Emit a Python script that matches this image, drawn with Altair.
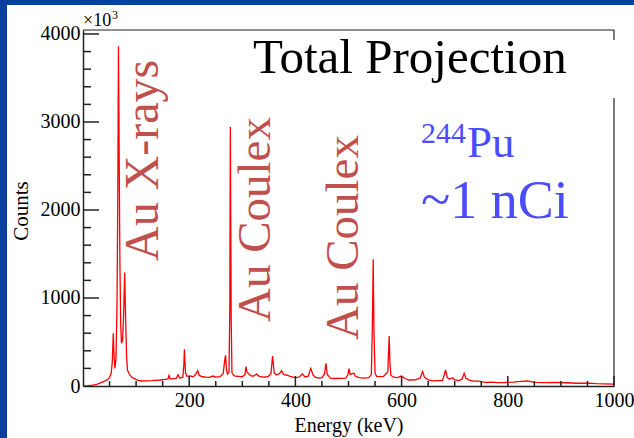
import altair as alt
import pandas as pd

# ---------------- data ----------------
energy = [0, 10, 19, 27, 34, 41, 47, 51, 53, 55, 57, 58.5, 60, 62, 64, 65.5, 66.8, 68, 69.5, 71,
          72.5, 74.5, 76.5, 78.5, 80.5, 82, 83.7, 88, 92, 97.6, 104, 110, 120, 130, 145, 155, 160,
          162, 164, 170, 176, 179, 182, 188, 190, 191, 193, 196, 202, 208, 212, 216, 219, 225, 232,
          238, 245, 250, 258, 264, 267, 268.5, 270, 272, 275, 276.5, 277.5, 279, 280.5, 285, 292,
          300, 305, 307, 309, 311, 315, 320, 327, 332, 340, 348, 354, 357, 360, 364, 370, 374, 378,
          383, 390, 396, 402, 408, 413, 418, 424, 429, 433, 437, 444, 450, 455, 457.5, 460, 466,
          475, 485, 495, 499, 501, 503, 507, 510, 513, 520, 530, 538, 543, 545, 546.5, 548, 550,
          553, 560, 566, 570, 574, 575.5, 576.7, 578, 580, 585, 592, 600, 606, 614, 626, 635,
          639.5, 643, 650, 660, 670, 677, 680, 682.8, 686, 690, 696, 700, 708, 714, 717.8, 721,
          726, 735, 745, 757, 770, 780, 795, 810, 825, 837, 850, 870, 890, 910, 930, 950, 967,
          980, 1000]
counts = [0, 4, 11, 22, 38, 55, 76, 110, 144, 260, 600, 350, 200, 300, 900, 2100, 3860, 2700, 1400, 700,
          485, 520, 800, 1290, 700, 350, 182, 125, 100, 80, 65, 57, 58, 60, 68, 75, 80,
          120, 82, 80, 90, 128, 90, 100, 250, 417, 150, 110, 115, 105, 130, 174, 120, 105, 100,
          98, 113, 100, 106, 140, 300, 349, 200, 135, 160, 900, 2943, 800, 150, 115, 110,
          105, 130, 220, 150, 146, 120, 110, 136, 110, 100, 105, 140, 341, 150, 125, 140, 174, 130,
          125, 110, 100, 95, 105, 136, 105, 110, 200, 130, 100, 90, 95, 140, 258, 130, 90,
          85, 87, 90, 130, 197, 130, 140, 147, 110, 95, 90, 95, 130, 700, 1440, 600, 140,
          110, 106, 110, 136, 160, 400, 568, 250, 120, 100, 95, 113, 85, 68, 70, 90,
          163, 100, 70, 58, 60, 62, 120, 182, 95, 80, 91, 70, 62, 80, 144, 90,
          70, 55, 55, 42, 45, 38, 40, 45, 52, 57, 42, 38, 40, 37, 31, 32, 27,
          25, 22]

x_labels = [200, 400, 600, 800, 1000]
y_labels = [0, 1000, 2000, 3000, 4000]
x_major = [200, 400, 600, 800, 1000]
x_minor = [50, 100, 150, 250, 300, 350, 450, 500, 550, 650, 700, 750, 850, 900, 950]
y_major = [1000, 2000, 3000, 4000]
y_minor = [200, 400, 600, 800, 1200, 1400, 1600, 1800, 2200, 2400, 2600, 2800,
           3200, 3400, 3600, 3800]

# ---------------- layout ----------------
W, H = 531, 356
FONT = "Liberation Serif"
RED_TXT = "#C0504D"
BLUE_TXT = "#4B4BFF"

xs = alt.Scale(domain=[0, 1000], nice=False, zero=False)
ys = alt.Scale(domain=[0, 4045], nice=False)

x_axis = alt.Axis(values=x_labels, format="d", ticks=False, grid=False, title=None, labelFont=FONT,
                  labelFontSize=20, labelColor="black", domainColor="#222222", domainWidth=1.5,
                  labelPadding=4, labelFlush=False, zindex=1)
y_axis = alt.Axis(values=y_labels, format="d", ticks=False, grid=False, title=None, labelFont=FONT,
                  labelFontSize=20, labelColor="black", domainColor="#222222", domainWidth=1.5,
                  labelPadding=3, labelBaseline="middle", zindex=1)

df = pd.DataFrame({"E": energy, "C": counts})
one = pd.DataFrame({"k": [0]})

panel = alt.Chart(one).mark_rect(color="white").encode(
    x=alt.value(-76), x2=alt.value(551), y=alt.value(-25), y2=alt.value(408))

line = alt.Chart(df).mark_line(color="#ff0000", strokeWidth=1.3).encode(
    x=alt.X("E:Q", scale=xs, axis=x_axis),
    y=alt.Y("C:Q", scale=ys, axis=y_axis),
)

xmaj = alt.Chart(pd.DataFrame({"E": x_major})).mark_rule(color="#222222", strokeWidth=1.5).encode(
    x=alt.X("E:Q", scale=xs, axis=x_axis), y=alt.value(H), y2=alt.value(H - 10))
xmin = alt.Chart(pd.DataFrame({"E": x_minor})).mark_rule(color="#222222", strokeWidth=1.5).encode(
    x=alt.X("E:Q", scale=xs, axis=x_axis), y=alt.value(H), y2=alt.value(H - 5))
ymaj = alt.Chart(pd.DataFrame({"C": y_major})).mark_rule(color="#222222", strokeWidth=1.5).encode(
    y=alt.Y("C:Q", scale=ys, axis=y_axis), x=alt.value(0), x2=alt.value(16))
ymin = alt.Chart(pd.DataFrame({"C": y_minor})).mark_rule(color="#222222", strokeWidth=1.5).encode(
    y=alt.Y("C:Q", scale=ys, axis=y_axis), x=alt.value(0), x2=alt.value(8))

top_rule = alt.Chart(one).mark_rule(color="#222222", strokeWidth=1.2).encode(
    x=alt.value(0), x2=alt.value(W), y=alt.value(0))
right_rule = alt.Chart(one).mark_rule(color="#222222", strokeWidth=1.2).encode(
    x=alt.value(W), y=alt.value(0), y2=alt.value(H))

title_box = alt.Chart(one).mark_rect(color="white").encode(
    x=alt.value(157), x2=alt.value(551), y=alt.value(10), y2=alt.value(68))


def txt(s, x, y, size, color="black", angle=0, align="left", baseline="alphabetic"):
    kw = dict(font=FONT, fontSize=size, color=color, align=align, baseline=baseline)
    if angle:
        kw["angle"] = angle
    return alt.Chart(one).mark_text(**kw).encode(
        x=alt.value(x), y=alt.value(y), text=alt.value(s))


texts = [
    txt("Total Projection", 170, 43, 49),
    txt("Au X-rays", 75, 231, 48, RED_TXT, angle=270),
    txt("Au Coulex", 187, 292, 47, RED_TXT, angle=270),
    txt("Au Coulex", 275, 310, 47, RED_TXT, angle=270),
    txt("244", 338, 113, 30, BLUE_TXT),
    txt("Pu", 384, 127, 45, BLUE_TXT),
    txt("~1 nCi", 338, 188, 54, BLUE_TXT),
    txt("×10", 0, -4, 18),
    txt("3", 29, -11, 12),
    txt("Counts", -55, 181, 21, angle=270, align="center"),
    txt("Energy (keV)", 266, 402, 20, align="center"),
]

chart = alt.layer(
    panel, line, xmaj, xmin, ymaj, ymin, top_rule, right_rule, title_box, *texts
).properties(
    width=W, height=H,
    padding={"left": 83, "top": 30, "right": 20, "bottom": 52},
    autosize=alt.AutoSizeParams(type="none"),
).configure(background="#0A3FA0").configure_view(stroke=None)

chart.save("out.html", embed_options={"renderer": "svg", "actions": False})
